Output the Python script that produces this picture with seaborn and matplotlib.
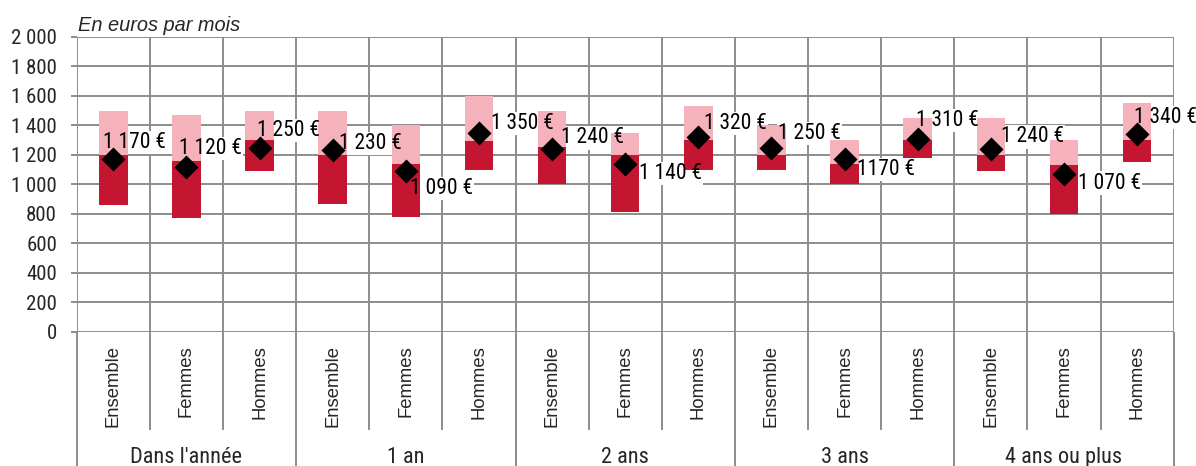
import numpy as np
import pandas as pd
import matplotlib
matplotlib.use("Agg")
import matplotlib.pyplot as plt
from matplotlib import font_manager
from matplotlib.font_manager import FontProperties
from matplotlib.transforms import blended_transform_factory
import seaborn as sns

# ---- data -------------------------------------------------------------
groups = ["Dans l'année", "1 an", "2 ans", "3 ans", "4 ans ou plus"]
subgroups = ["Ensemble", "Femmes", "Hommes"]

q1 = [860, 770, 1090, 865, 780, 1100, 1000, 815, 1100, 1100, 1000, 1180, 1090, 800, 1150]
median = [1200, 1160, 1300, 1200, 1140, 1295, 1255, 1200, 1300, 1200, 1140, 1300, 1200, 1130, 1300]
q3 = [1500, 1470, 1500, 1500, 1400, 1600, 1500, 1350, 1530, 1400, 1300, 1450, 1450, 1300, 1550]
mean = [1170, 1120, 1250, 1230, 1090, 1350, 1240, 1140, 1320, 1250, 1170, 1310, 1240, 1070, 1340]
mean_labels = ["1 170 €", "1 120 €", "1 250 €", "1 230 €", "1 090 €",
               "1 350 €", "1 240 €", "1 140 €", "1 320 €", "1 250 €",
               "1170 €", "1 310 €", "1 240 €", "1 070 €", "1 340 €"]
y_ticks = [0, 200, 400, 600, 800, 1000, 1200, 1400, 1600, 1800, 2000]

# label placement (pixels, relative to the diamond)
label_offsets = [(-10, 17), (-7, 18), (-3, 17), (6, 7), (4, -17),
                 (12, 9), (9, 11), (14, -10), (6, 14), (7, 14),
                 (12, -10), (-2, 18), (10, 12), (14, -9), (-3, 17)]

# ---- styling ----------------------------------------------------------
DARK = "#C41631"
PINK = "#F5B2BB"
GRID = "#8C8C8C"
LW = 1.4

sns.set_style("white")
available = {f.name for f in font_manager.fontManager.ttflist}
REG = "Liberation Sans" if "Liberation Sans" in available else "DejaVu Sans"
plt.rcParams["font.family"] = [REG, "DejaVu Sans"]


def _is_regular(f):
    low = f.fname.lower()
    return (f.style == "normal" and f.weight in (400, "normal", "regular", "book")
            and "italic" not in low and "bold" not in low and "light" not in low
            and "thin" not in low and "medium" not in low and "black" not in low)


def find_narrow():
    fonts = font_manager.fontManager.ttflist
    for name in ["Liberation Sans Narrow", "Arial Narrow", "Roboto Condensed"]:
        for f in fonts:
            if f.name == name and _is_regular(f):
                return FontProperties(fname=f.fname)
    for key in ["semicondensed", "condensed", "narrow"]:
        for f in fonts:
            low = f.fname.lower().replace("-", "").replace("_", "")
            if key in low and "extra" not in low and "ultra" not in low and _is_regular(f):
                if key == "condensed" and "semicondensed" in low:
                    continue
                return FontProperties(fname=f.fname)
    return None


_narrow = find_narrow()


def narrow(size):
    if _narrow is None:
        return FontProperties(family=REG, size=size * 0.86)
    fp = _narrow.copy()
    fp.set_size(size)
    return fp


df = pd.DataFrame({
    "pos": np.arange(len(mean)),
    "q1": q1, "median": median, "q3": q3, "mean": mean,
})
df["low_h"] = df["median"] - df["q1"]
df["high_h"] = df["q3"] - df["median"]

fig = plt.figure(figsize=(11.96, 4.66), dpi=100)
ax = fig.add_axes([76.7 / 1196, 1 - 331.7 / 466, (1173.7 - 76.7) / 1196, 294.7 / 466])

# interquartile boxes: first quartile -> median, median -> third quartile
sns.barplot(data=df, x="pos", y="low_h", bottom=df["q1"].to_numpy(),
            native_scale=True, width=0.39, color=DARK, saturation=1,
            errorbar=None, linewidth=0, zorder=2, ax=ax)
sns.barplot(data=df, x="pos", y="high_h", bottom=df["median"].to_numpy(),
            native_scale=True, width=0.39, color=PINK, saturation=1,
            errorbar=None, linewidth=0, zorder=2, ax=ax)

# mean markers
sns.scatterplot(data=df, x="pos", y="mean", marker="D", s=150, color="black",
                linewidth=0, zorder=5, legend=False, ax=ax)

# mean labels: white box under the bars (hides grid only), text above bars
for (x, y, txt), (dx, dy) in zip(zip(df["pos"], df["mean"], mean_labels), label_offsets):
    ax.annotate(txt, (x, y), xytext=(dx, dy), textcoords="offset pixels",
                ha="left", va="center", color="white",
                bbox=dict(boxstyle="square,pad=0.05", fc="white", ec="none"),
                zorder=1.5, fontproperties=narrow(15.5))
    ax.annotate(txt, (x, y), xytext=(dx, dy), textcoords="offset pixels",
                ha="left", va="center", color="black",
                zorder=4, fontproperties=narrow(15.5))

n = len(mean)
ax.set_xlim(-0.5, n - 0.5)
ax.set_ylim(y_ticks[0], y_ticks[-1])
ax.set_xlabel("")
ax.set_ylabel("")
ax.set_xticks([])
ax.set_yticks(y_ticks)
ax.set_yticklabels([f"{v:,}".replace(",", " ") for v in y_ticks])
for lab in ax.get_yticklabels():
    lab.set_fontproperties(narrow(15))
ax.tick_params(axis="y", left=True, length=6.5 * 0.72, width=LW, color=GRID, pad=9.5)
for s in ax.spines.values():
    s.set_visible(False)
ax.set_axisbelow(True)
ax.grid(axis="y", color=GRID, linewidth=LW, zorder=0.5)
ax.grid(axis="x", visible=False)

trans = blended_transform_factory(ax.transData, ax.transAxes)
n_sub = len(subgroups)
for k in range(n + 1):
    xb = k - 0.5
    ax.axvline(xb, color=GRID, linewidth=LW, zorder=0.6)
    y_end = -0.456 if k % n_sub == 0 else -0.334
    ax.plot([xb, xb], [0, y_end], transform=trans, clip_on=False,
            color=GRID, linewidth=LW, solid_capstyle="butt")

# category and group labels
for i in range(n):
    ax.text(i, -0.045, subgroups[i % n_sub], rotation=90, ha="center", va="top",
            fontsize=13.3, family=REG, transform=trans)
for g, name in enumerate(groups):
    ax.text(g * n_sub + (n_sub - 1) / 2, -0.4455, name, ha="center", va="baseline",
            transform=trans, fontproperties=narrow(16))

fig.text(78 / 1196, 1 - 31 / 466, "En euros par mois", style="italic",
         fontsize=14.4, family=REG, ha="left", va="baseline")

fig.savefig("out.png", dpi=100)
